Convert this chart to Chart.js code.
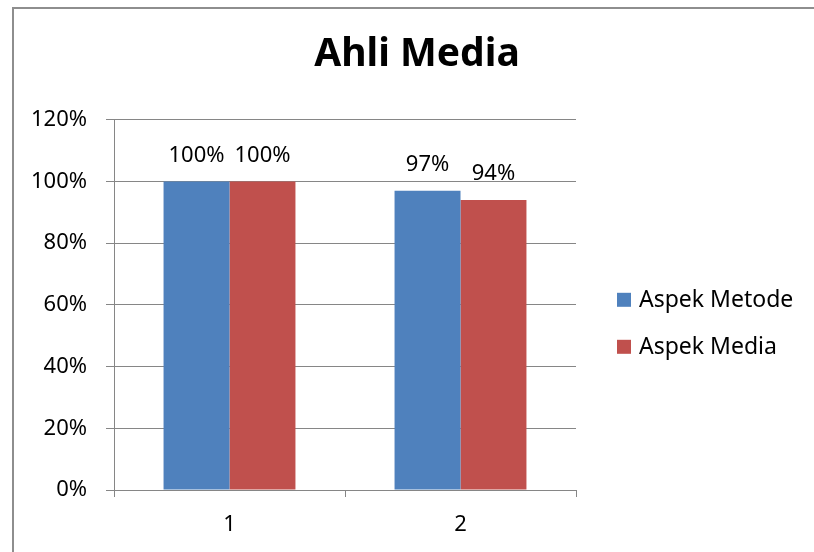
<!DOCTYPE html>
<html>
<head>
<meta charset="utf-8">
<script src="https://cdn.jsdelivr.net/npm/chart.js@4.4.1/dist/chart.umd.min.js"></script>
<style>
    html, body { margin: 0; padding: 0; background: #ffffff; }
    #wrap { position: relative; width: 814px; height: 552px; overflow: hidden; }
    #frame {
        position: absolute; left: 12px; top: 7px; width: 900px; height: 700px;
        border-left: 2px solid #8e8e8e; border-top: 2px solid #8e8e8e;
    }
    #chart { position: absolute; left: 0; top: 0; }
</style>
</head>
<body>
<div id="wrap">
    <div id="frame"></div>
    <canvas id="chart" width="814" height="552"></canvas>
</div>
<script>
Chart.defaults.font.family = "'Noto Sans', sans-serif";
Chart.defaults.color = '#000000';

var categories  = ['1', '2'];
var aspekMetode = [100, 97];
var aspekMedia  = [100, 94];
var yTicks      = [0, 20, 40, 60, 80, 100, 120];

var gridColor = '#868686';

// value labels above each bar
var barLabels = {
    id: 'barLabels',
    afterDatasetsDraw: function(chart) {
        var ctx = chart.ctx;
        ctx.save();
        ctx.font = "22px 'Noto Sans', sans-serif";
        ctx.fillStyle = '#000000';
        ctx.textAlign = 'center';
        ctx.textBaseline = 'middle';
        chart.data.datasets.forEach(function(ds, i) {
            chart.getDatasetMeta(i).data.forEach(function(bar, j) {
                ctx.fillText(ds.data[j] + '%', bar.x, bar.y - 26);
            });
        });
        ctx.restore();
    }
};

// legend to the right of the plot, like the spreadsheet one
var sideLegend = {
    id: 'sideLegend',
    afterDraw: function(chart) {
        var ctx = chart.ctx;
        var area = chart.chartArea;
        ctx.save();
        ctx.font = "23px 'Noto Sans', sans-serif";
        ctx.textBaseline = 'middle';
        ctx.textAlign = 'left';
        chart.data.datasets.forEach(function(ds, i) {
            var x = area.right + 41;
            var y = area.top + 180 + i * 47;
            ctx.fillStyle = ds.backgroundColor;
            ctx.fillRect(x, y - 7, 14, 14);
            ctx.fillStyle = '#000000';
            ctx.fillText(ds.label, x + 22, y + 1);
        });
        ctx.restore();
    }
};

new Chart(document.getElementById('chart'), {
    type: 'bar',
    data: {
        labels: categories,
        datasets: [
            {
                label:           'Aspek Metode',
                data:            aspekMetode,
                backgroundColor: '#4f81bd',
                borderWidth:     0
            },
            {
                label:           'Aspek Media',
                data:            aspekMedia,
                backgroundColor: '#c0504d',
                borderWidth:     0
            }
        ]
    },
    options: {
        responsive: false,
        animation: false,
        layout: { padding: { left: 20, right: 0, top: 0, bottom: 0 } },
        datasets: {
            bar: { barPercentage: 1, categoryPercentage: 0.571 }
        },
        plugins: {
            legend:  { display: false },
            tooltip: { enabled: false },
            title: {
                display: true,
                text: 'Ahli Media',
                color: '#000000',
                font: { size: 39, weight: 'bold' },
                padding: { top: 31, bottom: 42 }
            }
        },
        scales: {
            x: {
                grid: {
                    display: true, offset: true, drawOnChartArea: false,
                    tickLength: 7, color: gridColor
                },
                border: { display: true, color: gridColor },
                ticks: { font: { size: 22 }, padding: 15 },
                afterFit: function(s) { s.height = 62; }
            },
            y: {
                min: 0,
                max: 120,
                afterBuildTicks: function(s) {
                    s.ticks = yTicks.map(function(v) { return { value: v }; });
                },
                ticks: {
                    font: { size: 22 },
                    padding: 19,
                    callback: function(v) { return v + '%'; }
                },
                grid:   { color: gridColor, tickLength: 8 },
                border: { display: true, color: gridColor },
                afterFit: function(s) { s.width = 94; }
            },
            // empty axis on the right that keeps room for the legend
            y2: {
                position: 'right',
                grid:   { display: false },
                border: { display: false },
                ticks:  { display: false },
                afterFit: function(s) { s.width = 238; }
            }
        }
    },
    plugins: [barLabels, sideLegend]
});
</script>
</body>
</html>
